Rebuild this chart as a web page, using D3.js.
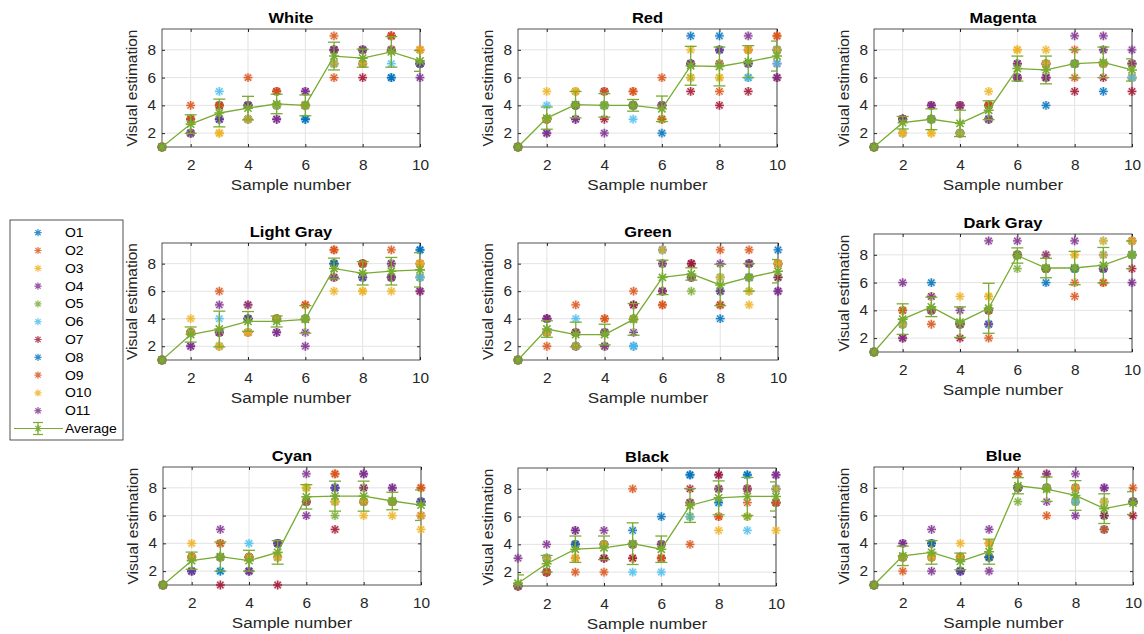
<!DOCTYPE html>
<html>
<head>
<meta charset="utf-8">
<script src="https://cdn.jsdelivr.net/npm/d3@7"></script>
<style>
  body { margin: 0; background: #fff; }
  text { font-family: "Liberation Sans", Arial, sans-serif; fill: #262626; }
</style>
</head>
<body>
<svg id="chart" width="1144" height="634"></svg>
<script>
// sample axis + observers
var samples = [1, 2, 3, 4, 5, 6, 7, 8, 9, 10];
var observers = ["O1", "O2", "O3", "O4", "O5", "O6", "O7", "O8", "O9", "O10", "O11"];
var titles = ["White", "Red", "Magenta", "Light Gray", "Green", "Dark Gray", "Cyan", "Black", "Blue"];
var xTicks = [2, 4, 6, 8, 10];
var yTicks = [2, 4, 6, 8];

// one row per observer (O1..O11), one value per sample
var whiteObs = [
  [1,2,4,4,4,3,8,8,6,7],
  [1,4,4,3,5,4,9,8,9,7],
  [1,3,2,3,4,4,7,7,8,8],
  [1,2,3,4,3,5,8,8,8,6],
  [1,3,4,4,4,4,8,8,8,7],
  [1,3,5,4,4,4,7,7,7,7],
  [1,3,4,4,5,4,8,6,9,7],
  [1,2,3,3,4,3,7,7,6,7],
  [1,3,4,6,5,4,6,7,9,8],
  [1,2,2,3,4,4,7,7,8,8],
  [1,2,3,4,3,5,8,8,8,7]
];
var whiteAvg = [1, 2.65, 3.45, 3.8, 4.1, 4.0, 7.55, 7.4, 7.85, 7.2];
var whiteErr = [0, 0.67, 1.0, 0.85, 0.7, 0.75, 1.0, 0.65, 1.1, 0.75];

var redObs = [
  [1,3,4,4,4,2,9,9,6,8],
  [1,3,5,5,5,6,7,5,8,9],
  [1,5,5,4,4,3,8,6,8,8],
  [1,2,3,5,4,4,7,8,9,7],
  [1,3,4,4,4,3,6,7,7,8],
  [1,4,4,4,3,4,7,7,6,7],
  [1,3,4,3,4,4,5,4,5,6],
  [1,3,4,4,4,4,7,8,7,8],
  [1,3,4,5,5,3,7,7,8,9],
  [1,3,5,4,4,4,6,6,8,8],
  [1,2,3,2,4,4,7,8,7,6]
];
var redAvg = [1, 3.08, 4.05, 4.0, 4.0, 3.75, 6.85, 6.8, 7.15, 7.55];
var redErr = [0, 0.8, 0.95, 0.85, 0.42, 0.92, 1.4, 1.4, 1.15, 1.08];

var magentaObs = [
  [1,2,3,2,4,7,4,7,5,6],
  [1,3,3,2,4,7,7,8,7,6],
  [1,2,2,2,5,8,8,7,7,6],
  [1,3,4,4,3,7,6,9,9,8],
  [1,3,3,2,4,6,7,7,8,7],
  [1,3,3,2,3,6,7,7,7,6],
  [1,3,4,4,4,6,6,5,6,5],
  [1,3,3,2,3,6,7,7,7,7],
  [1,3,3,4,4,6,7,6,7,7],
  [1,2,2,2,3,8,7,7,7,7],
  [1,3,4,4,3,6,6,7,8,7]
];
var magentaAvg = [1, 2.75, 3.0, 2.7, 3.65, 6.65, 6.55, 7.0, 7.1, 6.55];
var magentaErr = [0, 0.45, 0.75, 0.95, 0.68, 0.9, 1.0, 1.02, 1.1, 0.8];

var lightGrayObs = [
  [1,3,2,3,4,4,8,8,8,9],
  [1,3,6,5,4,5,9,8,9,8],
  [1,4,2,3,4,4,6,6,8,8],
  [1,2,5,5,3,2,7,7,8,7],
  [1,3,3,4,4,4,8,8,7,7],
  [1,3,4,4,4,4,8,7,7,7],
  [1,3,3,4,4,4,8,8,7,6],
  [1,3,3,4,4,4,8,7,7,9],
  [1,3,3,3,4,5,9,8,7,8],
  [1,3,2,3,4,4,7,6,6,8],
  [1,2,3,4,3,3,7,7,7,6]
];
var lightGrayAvg = [1, 2.85, 3.25, 3.8, 3.8, 3.95, 7.65, 7.3, 7.45, 7.55];
var lightGrayErr = [0, 0.55, 1.3, 0.72, 0.4, 1.0, 0.75, 0.85, 1.0, 1.25];

var greenObs = [
  [1,4,2,2,2,8,7,4,7,9],
  [1,2,5,4,6,5,8,9,9,8],
  [1,3,2,2,4,8,7,6,5,8],
  [1,4,3,2,5,8,8,8,8,6],
  [1,3,3,3,4,6,6,7,6,7],
  [1,3,4,3,2,9,7,7,7,7],
  [1,4,2,3,5,6,8,5,7,7],
  [1,3,2,3,4,9,7,6,8,8],
  [1,3,3,4,4,5,7,5,8,8],
  [1,3,2,3,4,9,7,7,6,8],
  [1,4,3,3,3,6,7,6,8,6]
];
var greenAvg = [1, 3.25, 2.85, 2.85, 3.95, 7.0, 7.25, 6.45, 7.0, 7.45];
var greenErr = [0, 0.6, 0.9, 0.75, 1.15, 1.25, 0.45, 1.5, 1.0, 0.85];

var darkGrayObs = [
  [1,3,6,3,3,8,6,7,8,8],
  [1,4,3,3,2,8,7,5,6,8],
  [1,3,5,5,5,8,7,8,8,8],
  [1,6,5,4,9,9,7,7,7,8],
  [1,4,4,3,4,7,7,7,7,8],
  [1,3,4,3,3,8,7,7,9,8],
  [1,2,4,2,4,8,7,7,7,7],
  [1,3,4,3,4,8,7,7,7,9],
  [1,4,4,3,4,8,7,6,6,9],
  [1,3,4,3,5,8,8,8,9,9],
  [1,2,4,3,3,8,8,9,7,6]
];
var darkGrayAvg = [1, 3.37, 4.25, 3.15, 4.15, 7.95, 7.05, 7.05, 7.25, 8.0];
var darkGrayErr = [0, 1.1, 0.7, 1.1, 1.8, 0.55, 0.7, 1.2, 1.28, 1.0];

var cyanObs = [
  [1,3,3,2,4,7,7,7,7,7],
  [1,3,4,3,4,7,9,7,7,8],
  [1,4,3,3,3,8,7,6,6,5],
  [1,2,5,2,4,9,8,9,8,7],
  [1,3,3,3,4,8,6,7,7,7],
  [1,3,2,4,3,7,8,8,7,7],
  [1,3,1,3,1,7,5,8,7,6],
  [1,2,2,3,4,7,8,7,7,7],
  [1,3,4,3,3,7,9,7,7,8],
  [1,3,3,3,3,8,7,7,7,6],
  [1,2,3,2,4,6,8,9,8,7]
];
var cyanAvg = [1, 2.75, 3.05, 2.75, 3.35, 7.35, 7.4, 7.4, 7.05, 6.75];
var cyanErr = [0, 0.62, 1.05, 0.75, 0.85, 0.88, 1.08, 1.08, 0.63, 1.1];

var blackObs = [
  [1,2,4,4,4,6,9,8,9,8],
  [1,2,2,2,3,3,4,6,7,7],
  [1,3,3,4,4,4,6,5,6,5],
  [3,2,5,3,4,4,7,9,8,9],
  [1,3,4,4,4,4,6,8,6,7],
  [1,3,4,4,2,2,6,7,5,7],
  [1,2,4,3,3,3,8,9,8,7],
  [1,3,4,4,5,4,9,7,9,8],
  [1,2,3,4,8,3,7,6,8,7],
  [1,3,3,4,4,4,7,8,8,8],
  [1,4,5,5,4,4,7,8,8,9]
];
var blackAvg = [1.2, 2.6, 3.65, 3.75, 4.05, 3.65, 6.8, 7.35, 7.45, 7.45];
var blackErr = [0.6, 0.6, 0.95, 0.85, 1.5, 0.95, 1.22, 1.22, 1.37, 1.05];

var blueObs = [
  [1,3,4,2,3,8,8,7,6,7],
  [1,2,3,3,3,9,6,7,5,7],
  [1,3,3,4,4,8,8,7,7,7],
  [1,4,5,2,5,8,7,9,8,7],
  [1,3,3,3,3,7,8,7,7,7],
  [1,3,3,3,3,8,8,7,7,7],
  [1,3,4,3,3,8,8,8,6,6],
  [1,3,4,2,3,8,8,8,5,7],
  [1,3,3,3,4,9,9,8,5,8],
  [1,3,3,3,4,8,8,8,7,7],
  [1,4,2,2,2,8,9,6,8,7]
];
var blueAvg = [1, 3.1, 3.35, 2.7, 3.4, 8.15, 7.9, 7.45, 6.5, 6.9];
var blueErr = [0, 0.7, 0.85, 0.6, 0.9, 0.58, 0.88, 1.07, 1.07, 0.82];

// styling
var obsColors = ["#0072BD", "#D95319", "#EDB120", "#7E2F8E", "#77AC30", "#4DBEEE",
                 "#A2142F", "#0072BD", "#D95319", "#EDB120", "#7E2F8E"];
var avgColor = "#77AC30";
var sx = 1.1; // text is a bit wide in the picture

// plot areas: left, right, top, bottom
var panelBoxes = [
  [162, 420, 29, 147], [518, 777, 29, 147], [874, 1132, 29, 147],
  [162, 420, 243, 360], [518, 778, 243, 360], [874, 1132, 234, 352],
  [163, 421, 467, 585], [518, 776, 468, 586], [874, 1133, 467, 585]
];

var panels = [
  {obs: whiteObs, avg: whiteAvg, err: whiteErr},
  {obs: redObs, avg: redAvg, err: redErr},
  {obs: magentaObs, avg: magentaAvg, err: magentaErr},
  {obs: lightGrayObs, avg: lightGrayAvg, err: lightGrayErr},
  {obs: greenObs, avg: greenAvg, err: greenErr},
  {obs: darkGrayObs, avg: darkGrayAvg, err: darkGrayErr},
  {obs: cyanObs, avg: cyanAvg, err: cyanErr},
  {obs: blackObs, avg: blackAvg, err: blackErr},
  {obs: blueObs, avg: blueAvg, err: blueErr}
];

var svg = d3.select("#chart");

//asterisk marker like matlab '*'
function starPath(r) {
  var d = r * 0.72;
  return `M${-r},0H${r}M0,${-r}V${r}M${-d},${-d}L${d},${d}M${-d},${d}L${d},${-d}`;
}

panels.forEach(function(p, i) {
  var b = panelBoxes[i];
  var g = svg.append("g");

  var x = d3.scaleLinear().domain([1, 10]).range([b[0], b[1]]);
  var y = d3.scaleLinear().domain([1, 9.5]).range([b[3], b[2]]);

  g.append("clipPath").attr("id", "clip" + i)
    .append("rect")
    .attr("x", b[0]).attr("y", b[2])
    .attr("width", b[1] - b[0]).attr("height", b[3] - b[2]);

  // grid
  g.selectAll(".gx").data(xTicks).enter().append("line")
    .attr("x1", d => x(d)).attr("x2", d => x(d))
    .attr("y1", b[2]).attr("y2", b[3])
    .attr("stroke", "#e3e3e3");
  g.selectAll(".gy").data(yTicks).enter().append("line")
    .attr("x1", b[0]).attr("x2", b[1])
    .attr("y1", d => y(d)).attr("y2", d => y(d))
    .attr("stroke", "#e3e3e3");

  // axes
  var xAxis = g.append("g")
    .attr("transform", `translate(0,${b[3]})`)
    .call(d3.axisBottom(x).tickValues(xTicks).tickSizeInner(-3).tickSizeOuter(0).tickPadding(13.5));
  var xTop = g.append("g")
    .attr("transform", `translate(0,${b[2]})`)
    .call(d3.axisTop(x).tickValues(xTicks).tickSizeInner(-3).tickSizeOuter(0).tickFormat(""));
  var yAxis = g.append("g")
    .attr("transform", `translate(${b[0]},0)`)
    .call(d3.axisLeft(y).tickValues(yTicks).tickSizeInner(-3).tickSizeOuter(0).tickPadding(5.5));
  var yRight = g.append("g")
    .attr("transform", `translate(${b[1]},0)`)
    .call(d3.axisRight(y).tickValues(yTicks).tickSizeInner(-3).tickSizeOuter(0).tickFormat(""));

  [xAxis, xTop, yAxis, yRight].forEach(function(a) {
    a.attr("font-family", null).attr("font-size", null).style("color", "#262626");
    a.select(".domain").remove();
    a.selectAll("text")
      .style("font-size", "14px")
      .attr("transform", `scale(${sx},1)`);
  });

  g.append("rect")
    .attr("x", b[0]).attr("y", b[2])
    .attr("width", b[1] - b[0]).attr("height", b[3] - b[2])
    .attr("fill", "none").attr("stroke", "#262626").attr("stroke-width", 0.8);

  // labels
  g.append("text")
    .attr("transform", `translate(${(b[0] + b[1]) / 2},${b[2] - 6.5}) scale(${sx},1)`)
    .attr("text-anchor", "middle")
    .style("font-size", "15px").style("font-weight", "bold").style("fill", "#000")
    .text(titles[i]);
  g.append("text")
    .attr("transform", `translate(${(b[0] + b[1]) / 2},${b[3] + 43}) scale(${sx},1)`)
    .attr("text-anchor", "middle")
    .style("font-size", "15.5px")
    .text("Sample number");
  g.append("text")
    .attr("transform", `translate(${b[0] - 25},${(b[2] + b[3]) / 2}) rotate(-90)`)
    .attr("text-anchor", "middle")
    .style("font-size", "15.5px")
    .text("Visual estimation");

  // observers (soft halo under each star, like the blurred original)
  p.obs.forEach(function(vals, k) {
    var og = g.append("g").selectAll("g")
      .data(vals)
      .enter()
      .append("g")
      .attr("transform", (v, j) => `translate(${x(samples[j])},${y(v)})`);
    og.append("path")
      .attr("d", starPath(4.4))
      .attr("stroke", obsColors[k])
      .attr("stroke-width", 3.2)
      .attr("stroke-opacity", 0.22)
      .attr("fill", "none");
    og.append("path")
      .attr("d", starPath(4.4))
      .attr("stroke", obsColors[k])
      .attr("stroke-width", 1.3)
      .attr("stroke-opacity", 0.85)
      .attr("fill", "none");
  });

  // average with error bars
  var clipped = g.append("g").attr("clip-path", `url(#clip${i})`);
  var line = d3.line().x((d, j) => x(samples[j])).y(d => y(d));
  clipped.append("path")
    .datum(p.avg)
    .attr("d", line)
    .attr("fill", "none")
    .attr("stroke", avgColor)
    .attr("stroke-width", 1.3);

  var bars = clipped.selectAll(".eb")
    .data(p.avg.map((a, j) => ({x: samples[j], a: a, e: p.err[j]})).filter(d => d.e > 0))
    .enter().append("g");
  bars.append("line")
    .attr("x1", d => x(d.x)).attr("x2", d => x(d.x))
    .attr("y1", d => y(d.a - d.e)).attr("y2", d => y(d.a + d.e))
    .attr("stroke", avgColor).attr("stroke-width", 1.3);
  bars.append("line")
    .attr("x1", d => x(d.x) - 6).attr("x2", d => x(d.x) + 6)
    .attr("y1", d => y(d.a - d.e)).attr("y2", d => y(d.a - d.e))
    .attr("stroke", avgColor).attr("stroke-width", 1.3);
  bars.append("line")
    .attr("x1", d => x(d.x) - 6).attr("x2", d => x(d.x) + 6)
    .attr("y1", d => y(d.a + d.e)).attr("y2", d => y(d.a + d.e))
    .attr("stroke", avgColor).attr("stroke-width", 1.3);

  g.append("g").selectAll("path")
    .data(p.avg)
    .enter()
    .append("path")
    .attr("transform", (v, j) => `translate(${x(samples[j])},${y(v)})`)
    .attr("d", starPath(5))
    .attr("stroke", avgColor)
    .attr("stroke-width", 1.6)
    .attr("fill", "none");
});

// legend
var legendItems = observers.concat(["Average"]);
var ly = d3.scaleLinear().domain([0, 11]).range([232.7, 428.5]);
var lg = svg.append("g");
lg.append("rect")
  .attr("x", 10).attr("y", 220).attr("width", 113).attr("height", 220)
  .attr("fill", "#fff").attr("stroke", "#262626").attr("stroke-width", 0.8);

var items = lg.selectAll(".li").data(legendItems).enter().append("g")
  .attr("transform", (d, k) => `translate(0,${ly(k)})`);

items.filter((d, k) => k < observers.length).append("path")
  .attr("transform", "translate(38,0)")
  .attr("d", starPath(3.6))
  .attr("stroke", (d, k) => obsColors[k])
  .attr("stroke-width", 1.2)
  .attr("stroke-opacity", 0.8)
  .attr("fill", "none");

var avgItem = items.filter(d => d === "Average");
avgItem.append("line").attr("x1", 14).attr("x2", 63).attr("y1", 0).attr("y2", 0)
  .attr("stroke", avgColor).attr("stroke-width", 1.2);
avgItem.append("line").attr("x1", 38).attr("x2", 38).attr("y1", -6).attr("y2", 6)
  .attr("stroke", avgColor).attr("stroke-width", 1.2);
avgItem.append("line").attr("x1", 33).attr("x2", 43).attr("y1", -6).attr("y2", -6)
  .attr("stroke", avgColor).attr("stroke-width", 1.2);
avgItem.append("line").attr("x1", 33).attr("x2", 43).attr("y1", 6).attr("y2", 6)
  .attr("stroke", avgColor).attr("stroke-width", 1.2);
avgItem.append("path")
  .attr("transform", "translate(38,0)")
  .attr("d", starPath(3.6))
  .attr("stroke", avgColor).attr("stroke-width", 1.2).attr("fill", "none");

items.append("text")
  .attr("transform", `translate(65,0) scale(${sx},1)`)
  .attr("dy", "0.36em")
  .style("font-size", "12.7px")
  .style("fill", "#000")
  .text(d => d);
</script>
</body>
</html>
